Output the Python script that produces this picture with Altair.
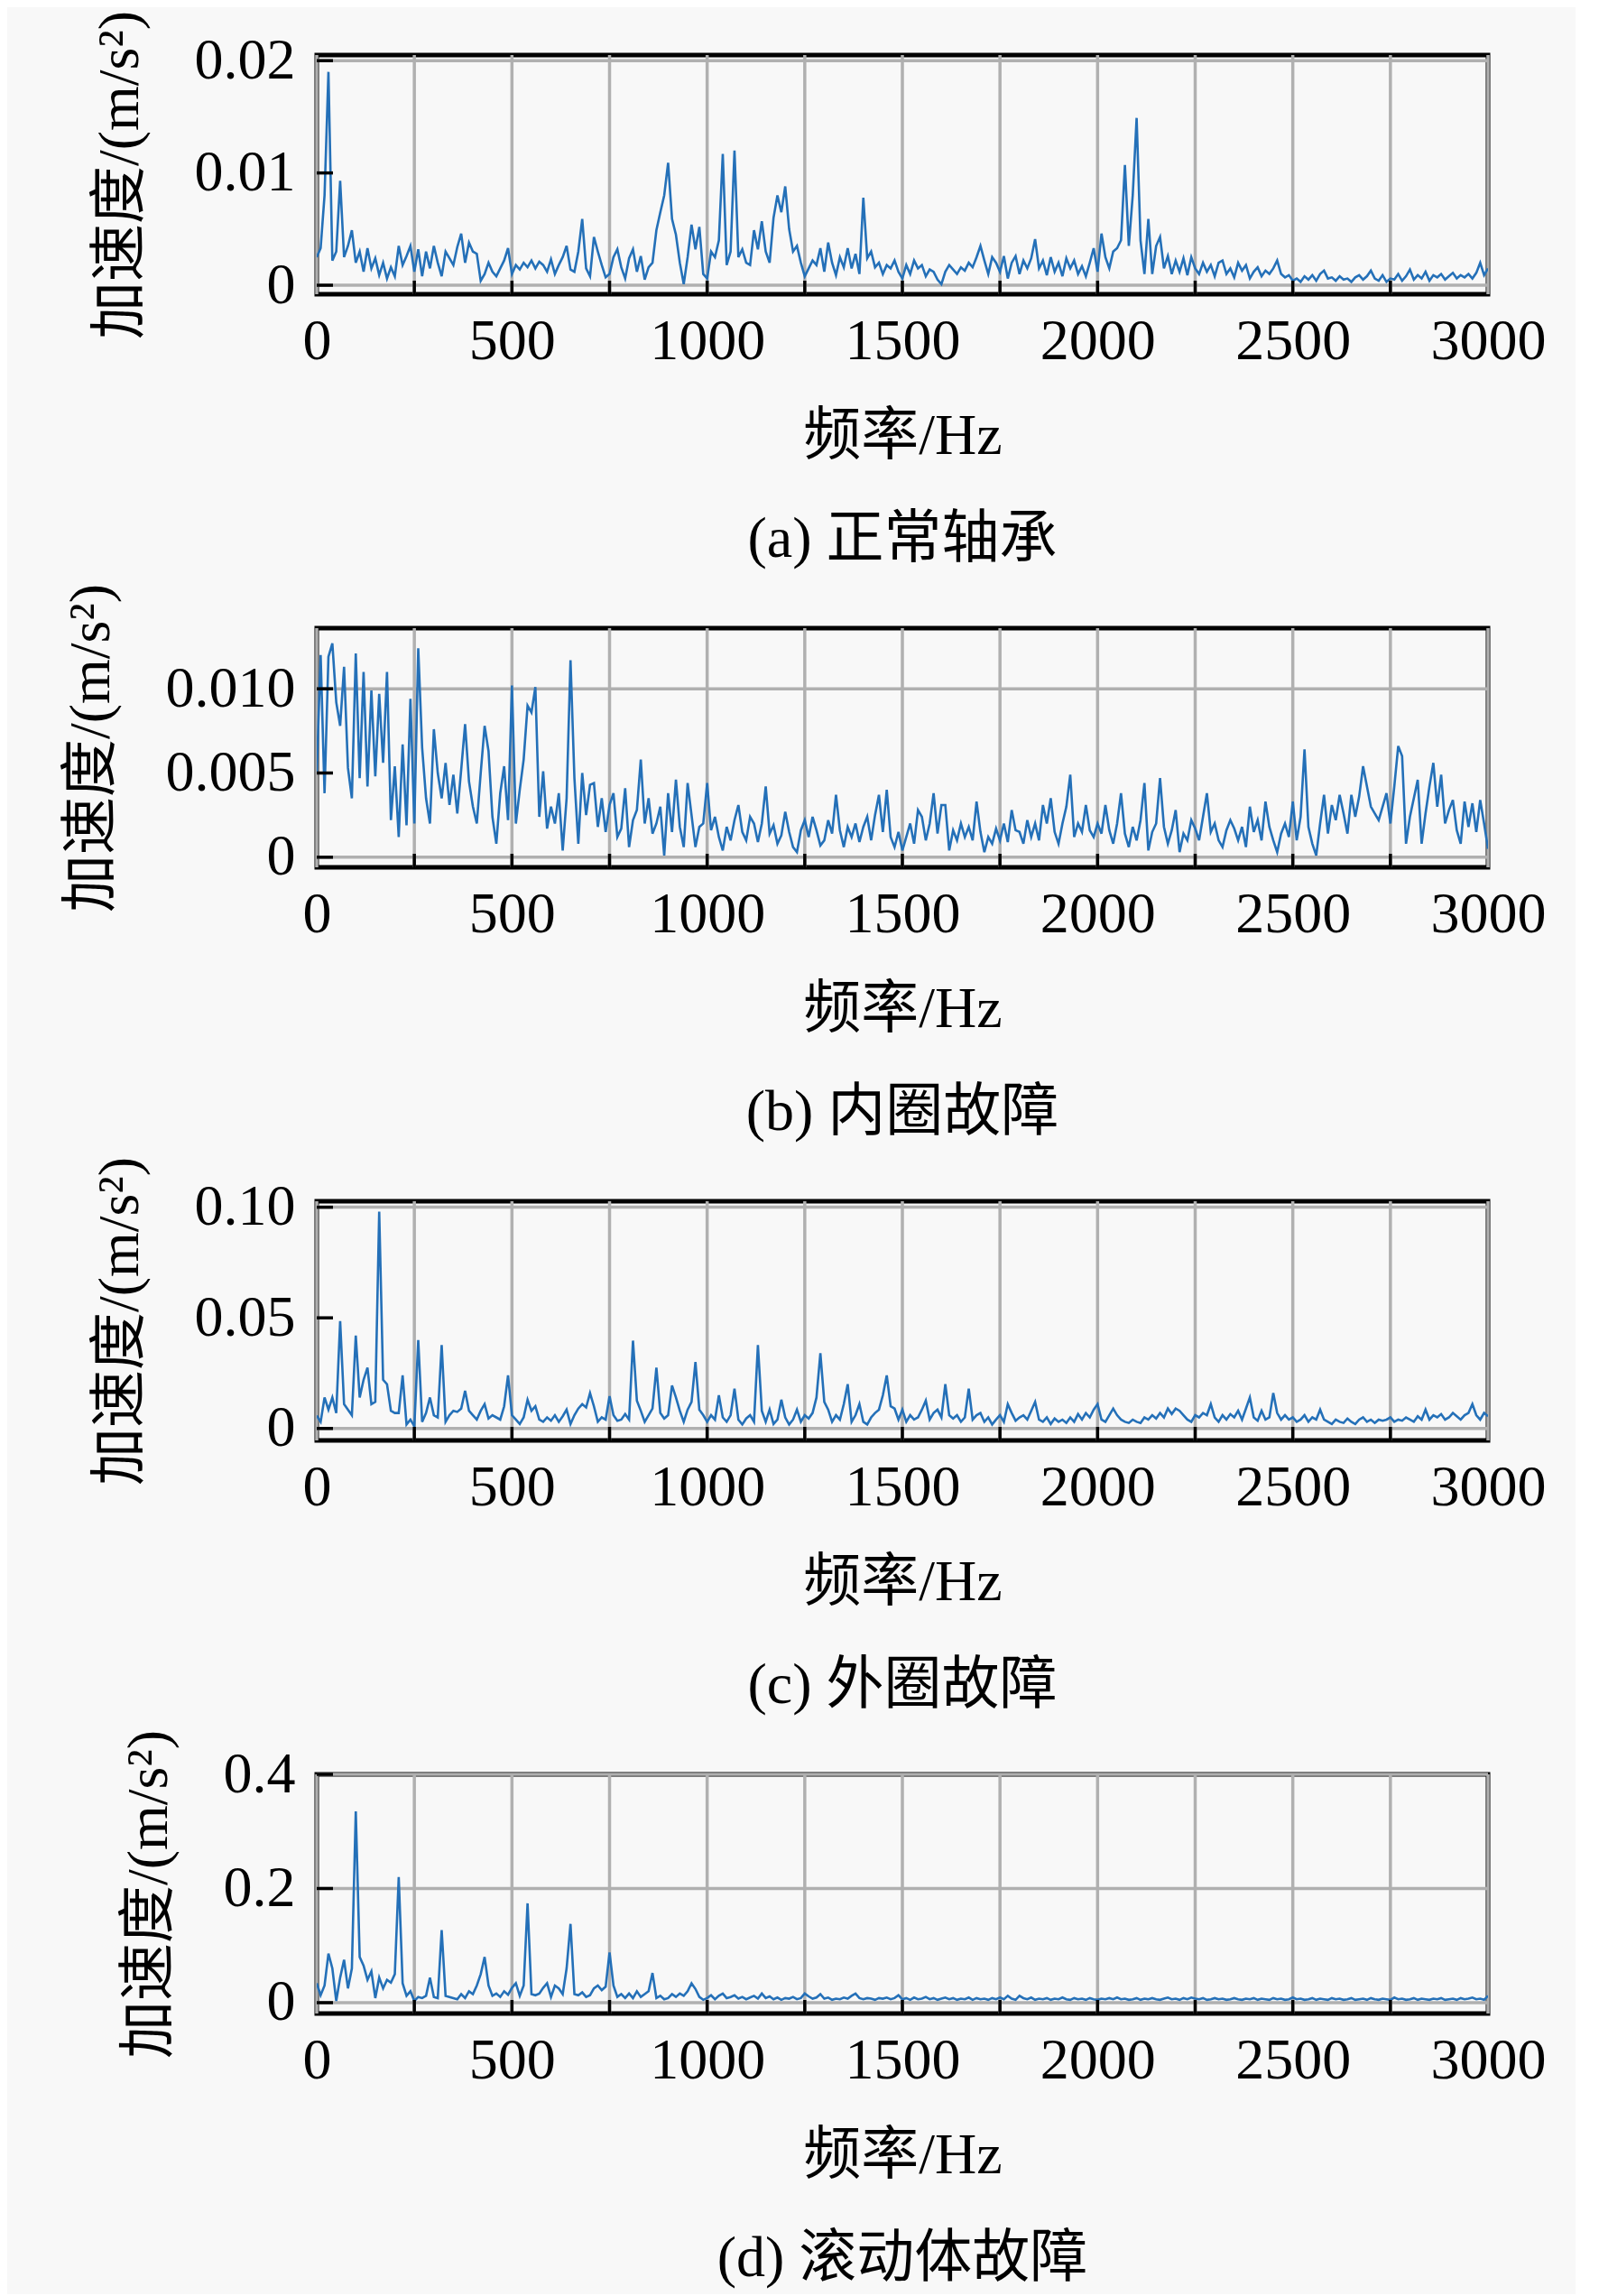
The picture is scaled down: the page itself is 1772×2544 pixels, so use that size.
import altair as alt
import pandas as pd

# Frequency axis (Hz), one value every 10 Hz
FREQS = list(range(0, 3001, 10))

# (a) normal bearing, amplitude in 1e-3 m/s^2
NORMAL_E3 = [
    2.5, 3.3, 8.0, 19.0, 2.2, 3.0, 9.3, 2.5, 3.5, 4.9,
    2.0, 3.0, 1.2, 3.3, 1.5, 2.4, 0.9, 2.0, 0.6, 1.6,
    0.8, 3.5, 1.8, 2.6, 3.5, 1.2, 3.2, 0.8, 3.0, 1.5,
    3.5, 2.0, 0.8, 3.0, 2.4, 1.8, 3.4, 4.6, 2.0, 3.8,
    3.0, 2.8, 0.4, 1.0, 2.0, 1.2, 0.8, 1.5, 2.2, 3.3,
    1.0, 1.8, 1.4, 2.0, 1.6, 2.2, 1.5, 2.1, 1.8, 1.2,
    2.3, 1.0, 1.8, 2.5, 3.5, 1.4, 1.2, 3.0, 5.9, 1.5,
    0.8, 4.3, 3.0, 1.8, 0.7, 1.0, 2.5, 3.2, 1.6, 0.6,
    2.4, 3.2, 1.2, 2.6, 0.5, 1.6, 2.0, 4.9, 6.5, 8.0,
    10.9, 5.9, 4.5, 2.0, 0.1, 2.5, 5.4, 3.2, 5.2, 1.0,
    0.6, 3.0, 2.5, 4.0, 11.7, 1.8, 3.0, 12.0, 2.5, 3.2,
    2.0, 1.8, 4.9, 3.2, 5.7, 3.0, 2.0, 6.0, 8.0, 6.5,
    8.8, 5.0, 3.0, 3.5, 2.0, 0.8, 1.5, 2.2, 1.8, 3.3,
    1.2, 3.8, 2.0, 0.9, 2.5, 1.6, 3.3, 1.5, 2.8, 1.0,
    7.8, 2.4, 3.0, 1.6, 2.0, 1.0, 1.8, 1.5, 2.2, 1.2,
    0.6, 1.8, 1.0, 2.2, 1.5, 1.8, 0.8, 1.4, 1.2, 0.5,
    0.1, 1.2, 1.8, 1.4, 1.0, 1.6, 1.3, 2.0, 1.6, 2.5,
    3.5, 2.2, 1.0, 2.5, 2.0, 1.2, 2.6, 0.6, 2.0, 2.6,
    1.0, 2.2, 1.5, 2.4, 4.1, 1.5, 2.2, 0.9, 2.5, 1.2,
    2.0, 0.8, 2.4, 1.5, 2.2, 1.0, 1.7, 0.8, 2.0, 3.3,
    1.2, 4.6, 2.5, 1.5, 3.0, 3.3, 4.0, 10.7, 3.5, 8.0,
    14.9, 4.0, 1.0, 5.9, 1.0, 3.5, 4.3, 1.5, 2.6, 1.0,
    2.2, 1.2, 2.4, 0.9, 2.5, 1.5, 1.0, 2.0, 1.2, 1.8,
    0.8, 2.0, 2.2, 1.0, 1.5, 0.7, 2.0, 1.3, 1.8, 0.6,
    1.2, 1.6, 0.8, 1.3, 1.0, 1.5, 2.2, 1.0, 0.7, 0.9,
    0.4, 0.6, 0.3, 0.8, 0.5, 0.9, 0.4, 1.0, 1.3, 0.6,
    0.7, 0.4, 0.8, 0.5, 0.6, 0.3, 0.7, 0.9, 0.5, 0.8,
    1.3, 0.6, 0.4, 0.9, 0.3, 0.6, 0.5, 1.0, 0.4, 0.8,
    1.4, 0.5, 0.9, 0.6, 1.2, 0.4, 0.9, 0.7, 1.0, 0.5,
    0.8, 1.1, 0.6, 0.9, 0.7, 1.0, 0.6, 1.1, 2.0, 0.9,
    1.5,
]

# (b) inner race fault, amplitude in 1e-3 m/s^2
INNER_E3 = [
    5.0, 12.0, 3.8, 11.9, 12.7, 9.2, 7.8, 11.3, 5.3, 3.5,
    12.1, 4.7, 11.0, 4.2, 9.9, 4.8, 9.7, 5.6, 11.0, 2.2,
    5.4, 1.2, 6.7, 1.9, 9.4, 2.0, 12.4, 6.5, 3.5, 2.0,
    7.6, 5.0, 3.5, 5.6, 3.1, 4.9, 2.6, 5.2, 7.9, 4.5,
    3.0, 2.0, 5.0, 7.8, 6.3, 2.4, 0.8, 3.8, 5.4, 2.2,
    10.2, 2.0, 4.0, 5.8, 9.0, 8.6, 10.1, 2.4, 5.1, 1.7,
    3.0, 2.0, 3.8, 0.4, 3.5, 11.7, 4.7, 0.8, 5.0, 2.5,
    4.3, 4.4, 1.8, 3.5, 1.5, 3.1, 3.8, 1.2, 1.7, 4.1,
    0.6, 2.2, 2.8, 5.8, 2.0, 3.5, 1.4, 2.0, 3.0, 0.1,
    3.8, 1.5, 4.6, 1.8, 0.6, 4.4, 2.5, 0.6, 1.8, 2.0,
    4.4, 1.6, 2.4, 1.2, 0.4, 1.8, 1.0, 2.2, 3.1, 1.5,
    1.0, 2.4, 2.0, 0.9, 2.0, 4.2, 1.4, 1.9, 0.8, 1.3,
    2.7, 1.5, 0.6, 0.3, 1.6, 2.2, 1.2, 2.4, 1.6, 0.7,
    1.0, 2.2, 1.4, 3.7, 1.6, 0.6, 1.8, 1.2, 2.0, 0.9,
    1.8, 2.4, 1.0, 2.5, 3.7, 1.5, 4.0, 1.2, 0.6, 1.5,
    0.4, 1.2, 2.0, 0.8, 2.8, 2.4, 1.0, 2.0, 3.8, 1.4,
    3.1, 3.1, 0.4, 1.6, 1.0, 2.0, 1.2, 1.8, 1.0, 3.3,
    1.5, 0.3, 1.2, 0.8, 1.7, 1.0, 2.0, 0.9, 2.8, 1.6,
    1.5, 0.8, 2.2, 1.2, 2.0, 1.0, 3.1, 2.0, 3.5, 1.5,
    0.8, 2.0, 3.0, 4.9, 1.2, 2.0, 1.5, 3.1, 1.6, 1.2,
    2.0, 1.4, 3.1, 1.6, 0.8, 2.0, 3.8, 1.4, 0.6, 1.8,
    1.0, 2.2, 4.4, 0.4, 1.5, 2.0, 4.7, 1.8, 0.8, 1.6,
    2.8, 0.3, 1.4, 1.0, 2.2, 1.7, 1.0, 2.4, 3.8, 1.5,
    2.0, 1.0, 0.6, 1.6, 2.2, 1.7, 1.0, 1.8, 0.6, 3.0,
    1.5, 2.2, 1.0, 3.3, 1.8, 1.0, 0.3, 1.4, 2.0, 1.2,
    3.3, 1.0, 2.4, 6.4, 1.8, 0.8, 0.1, 2.0, 3.7, 1.4,
    3.1, 2.2, 3.7, 2.6, 1.4, 3.7, 2.4, 3.6, 5.4, 4.2,
    3.0, 2.6, 2.2, 3.0, 3.8, 2.0, 4.2, 6.6, 6.0, 0.8,
    2.4, 3.5, 4.6, 0.8, 2.6, 4.2, 5.6, 3.0, 4.9, 2.0,
    2.8, 3.4, 1.6, 0.8, 3.3, 1.8, 3.2, 1.5, 3.4, 2.0,
    0.5,
]

# (c) outer race fault, amplitude in 1e-3 m/s^2
OUTER_E3 = [
    5.8, 3.0, 14.0, 8.5, 14.0, 7.0, 48.5, 11.0, 8.5, 6.0,
    42.0, 14.0, 22.0, 27.5, 11.0, 12.0, 98.0, 22.0, 20.0, 8.0,
    7.0, 7.0, 24.0, 1.8, 4.0, 1.0, 40.0, 3.0, 7.0, 14.0,
    6.0, 5.0, 37.7, 3.0, 6.0, 8.0, 7.5, 9.0, 17.0, 8.0,
    6.0, 4.0, 8.0, 11.0, 4.5, 6.0, 5.0, 4.0, 10.0, 24.0,
    6.0, 4.0, 2.0, 5.0, 13.0, 8.0, 10.0, 4.0, 3.0, 5.0,
    3.5, 6.0, 3.0, 5.5, 8.5, 2.0, 6.0, 9.0, 11.0, 9.5,
    16.0, 10.0, 3.0, 5.0, 4.0, 14.6, 6.0, 3.5, 4.0, 6.5,
    4.0, 39.7, 12.6, 8.0, 3.0, 6.0, 9.0, 27.5, 7.0, 4.5,
    6.0, 19.4, 14.0, 8.0, 3.0, 8.5, 12.0, 30.0, 8.5, 6.0,
    3.0, 6.0, 4.0, 15.0, 5.0, 3.0, 6.0, 18.0, 4.0, 1.8,
    4.5, 6.0, 3.0, 37.7, 8.0, 3.0, 8.5, 2.0, 4.0, 13.0,
    5.0, 1.8, 4.0, 8.5, 3.0, 6.0, 4.5, 7.0, 14.0, 34.0,
    12.0, 8.5, 3.0, 6.0, 4.0, 11.0, 20.0, 3.0, 6.0, 11.0,
    3.0, 1.8, 5.0, 7.0, 8.5, 15.0, 24.0, 10.0, 9.0, 4.0,
    8.5, 3.0, 6.0, 4.0, 5.0, 8.5, 12.6, 4.0, 7.0, 8.5,
    5.0, 20.0, 6.0, 4.5, 6.0, 3.0, 5.0, 18.0, 4.0, 6.0,
    7.0, 3.0, 5.0, 1.8, 4.0, 6.0, 3.0, 11.0, 7.0, 3.5,
    5.0, 6.0, 4.0, 8.0, 12.0, 4.0, 3.0, 5.0, 2.0, 4.5,
    3.0, 4.0, 2.5, 5.0, 3.0, 6.5, 4.0, 7.0, 5.0, 8.5,
    11.0, 4.0, 3.0, 6.0, 9.0, 6.0, 4.0, 3.0, 2.5, 4.0,
    3.0, 2.5, 5.0, 4.0, 6.0, 4.5, 7.0, 5.0, 9.0, 6.5,
    9.0, 8.0, 6.0, 4.0, 3.0, 6.0, 5.0, 7.0, 6.0, 11.0,
    5.0, 3.0, 6.0, 4.0, 6.5, 5.0, 8.0, 4.0, 9.0, 14.0,
    5.0, 3.5, 8.0, 4.0, 5.0, 16.0, 7.0, 4.0, 6.0, 4.0,
    5.0, 3.0, 4.0, 6.0, 3.0, 5.0, 4.0, 8.5, 4.0, 3.0,
    2.0, 4.0, 3.0, 2.5, 4.5, 3.0, 2.0, 4.0, 5.0, 3.0,
    4.0, 2.5, 4.0, 3.5, 4.0, 5.0, 3.0, 4.0, 3.5, 5.0,
    4.0, 3.0, 5.5, 4.0, 8.5, 4.0, 6.0, 5.0, 6.5, 4.0,
    5.0, 7.0, 5.5, 4.0, 6.0, 7.0, 11.0, 6.0, 4.0, 7.0,
    5.5,
]

# (d) rolling element fault, amplitude in 1e-2 m/s^2
BALL_E2 = [
    3.4, 1.3, 3.0, 8.6, 6.0, 0.3, 4.4, 7.5, 2.5, 6.0,
    33.5, 8.0, 6.5, 4.0, 5.5, 0.8, 4.4, 2.5, 4.0, 3.5,
    5.0, 22.0, 3.4, 1.2, 2.0, 0.3, 1.0, 0.8, 1.2, 4.4,
    1.0, 0.8, 12.7, 1.2, 1.0, 0.8, 0.6, 1.5, 0.8, 2.0,
    1.5, 3.0, 5.0, 8.0, 3.0, 1.2, 1.6, 1.0, 2.0, 1.4,
    2.6, 3.4, 1.2, 3.0, 17.4, 1.5, 1.3, 1.6, 2.6, 3.4,
    1.0, 3.0, 2.5, 1.5, 6.0, 13.8, 1.5, 1.3, 1.8, 1.0,
    1.3, 2.5, 3.0, 2.2, 2.8, 8.8, 3.0, 1.0, 1.5, 0.8,
    1.6, 0.8, 2.0, 1.0, 1.5, 2.0, 5.2, 0.8, 1.2, 0.6,
    0.8, 1.5, 1.0, 1.6, 1.2, 2.0, 3.4, 2.4, 1.0, 0.5,
    0.8, 1.3, 0.6, 1.2, 1.6, 0.8, 1.0, 1.3, 0.7, 1.0,
    0.6, 0.9, 1.2, 0.7, 1.6, 0.8, 1.1, 0.6, 0.9, 0.5,
    0.8, 0.7, 1.0, 0.6, 0.8, 1.6, 1.1, 0.7, 0.9, 1.5,
    0.7, 0.9, 0.5, 0.7, 0.6, 0.9, 0.7, 1.2, 1.6, 0.8,
    0.6, 0.8, 0.7, 0.5, 0.8, 0.7, 0.9, 0.6, 0.8, 1.3,
    0.6, 0.8, 0.5, 0.9, 0.6, 0.7, 1.0, 0.6, 0.8, 0.5,
    0.7, 0.9, 0.6, 0.8, 0.5, 0.7, 0.6, 0.9, 0.5, 0.8,
    0.6, 0.7, 0.5, 0.8, 0.6, 0.9, 0.6, 1.2, 0.7, 0.5,
    1.2, 0.8, 0.6, 0.9, 0.5, 0.7, 0.6, 0.8, 0.5, 0.7,
    0.6, 0.9, 0.6, 0.5, 0.8, 0.6, 0.7, 0.5, 0.8, 0.6,
    0.5, 0.7, 0.6, 0.8, 0.6, 0.9, 0.6, 0.7, 0.5, 0.6,
    0.8, 0.5, 0.7, 0.6, 0.8, 0.6, 0.5, 0.7, 0.9, 0.6,
    0.7, 0.5, 0.8, 0.6, 0.9, 0.7, 0.6, 0.8, 0.5, 0.6,
    0.8, 0.6, 0.7, 0.5, 0.6, 0.8, 0.6, 0.5, 0.7, 0.6,
    0.8, 0.5, 0.7, 0.6, 0.5, 0.8, 0.6, 0.7, 0.5, 0.6,
    0.9, 0.6, 0.7, 0.5, 0.6, 0.8, 0.5, 0.7, 0.6, 0.5,
    0.8, 0.6, 0.7, 0.5, 0.6, 0.8, 0.5, 0.6, 0.7, 0.5,
    0.8, 0.6, 0.5, 0.7, 0.6, 0.5, 0.9, 0.6, 0.7, 0.5,
    0.6, 0.8, 0.5, 0.7, 0.6, 0.5, 0.7, 0.6, 0.8, 0.5,
    0.6, 0.7, 0.5, 0.8, 0.6, 0.7, 0.9, 0.6, 0.7, 0.5,
    1.2,
]

for arr in (NORMAL_E3, INNER_E3, OUTER_E3, BALL_E2):
    assert len(arr) == len(FREQS), len(arr)

SERIES = [
    [v * 1e-3 for v in NORMAL_E3],
    [v * 1e-3 for v in INNER_E3],
    [v * 1e-3 for v in OUTER_E3],
    [v * 1e-2 for v in BALL_E2],
]
CAPTIONS = ["(a) 正常轴承", "(b) 内圈故障", "(c) 外圈故障", "(d) 滚动体故障"]
Y_DOMAINS = [[-0.0008, 0.0205], [-0.0006, 0.0136], [-0.0054, 0.1027], [-0.019, 0.4]]
Y_TICKS = [[0, 0.01, 0.02], [0, 0.005, 0.01], [0, 0.05, 0.1], [0, 0.2, 0.4]]
Y_FORMATS = [".2f", ".3f", ".2f", ".1f"]
Y_GRID = [[0, 0.02], [0, 0.01], [0, 0.1], [0, 0.2, 0.4]]
X_LABELS = [0, 500, 1000, 1500, 2000, 2500, 3000]
X_GRID = [0, 250, 500, 750, 1000, 1250, 1500, 1750, 2000, 2250, 2500, 2750, 3000]
X_TICKS = [250, 500, 750, 1000, 1250, 1500, 1750, 2000, 2250, 2500, 2750]

X_TITLE = "频率/Hz"
Y_TITLE = "加速度/(m/s²)"

W, H = 1298, 265
LINE_COLOR = "#2470b8"
GRID_COLOR = "#b0b0b0"
FONT = "Liberation Serif, Noto Sans CJK SC"
FS = 64


def panel(values, caption, ydom, yticks, yfmt, ygrid):
    xs = alt.Scale(domain=[0, 3000], nice=False, zero=False)
    ys = alt.Scale(domain=ydom, nice=False, zero=False)
    x_axis = alt.Axis(values=X_LABELS, format="d", title=X_TITLE)
    y_axis = alt.Axis(values=yticks, title=Y_TITLE,
                      labelExpr=f"datum.value == 0 ? '0' : format(datum.value, '{yfmt}')")
    df = pd.DataFrame({"freq": FREQS, "acc": values})
    vgrid = alt.Chart(pd.DataFrame({"freq": X_GRID})).mark_rule(
        color=GRID_COLOR, strokeWidth=3.5).encode(
        x=alt.X("freq:Q", scale=xs, axis=x_axis))
    hgrid = alt.Chart(pd.DataFrame({"acc": ygrid})).mark_rule(
        color=GRID_COLOR, strokeWidth=3.5).encode(
        y=alt.Y("acc:Q", scale=ys, axis=y_axis))
    line = alt.Chart(df).mark_line(
        color=LINE_COLOR, strokeWidth=2.6, clip=True).encode(
        x=alt.X("freq:Q", scale=xs, axis=x_axis),
        y=alt.Y("acc:Q", scale=ys, axis=y_axis),
    )
    xt = alt.Chart(pd.DataFrame({"freq": X_TICKS})).mark_rule(
        color="black", strokeWidth=3.5).encode(
        x=alt.X("freq:Q", scale=xs, axis=x_axis),
        y=alt.value(H), y2=alt.value(H - 15))
    yt = alt.Chart(pd.DataFrame({"acc": yticks})).mark_rule(
        color="black", strokeWidth=3.5).encode(
        y=alt.Y("acc:Q", scale=ys, axis=y_axis),
        x=alt.value(0), x2=alt.value(18))
    return alt.layer(vgrid, hgrid, line, xt, yt).properties(
        width=W, height=H,
        title=alt.TitleParams(caption, orient="bottom", offset=51, fontSize=FS,
                              font=FONT, fontWeight="normal", anchor="middle",
                              frame="group", color="black"),
    )


panels = [panel(SERIES[i], CAPTIONS[i], Y_DOMAINS[i], Y_TICKS[i], Y_FORMATS[i], Y_GRID[i])
          for i in range(4)]

chart = alt.vconcat(*panels, spacing=370, bounds="flush").configure(
    background="#f8f8f8",
    padding={"left": 58, "top": 0, "right": 30, "bottom": 4},
).configure_view(
    stroke="black", strokeWidth=5, fill="#f8f8f8",
).configure_axis(
    labelFont=FONT, titleFont=FONT, labelFontSize=FS, titleFontSize=FS,
    labelColor="black", titleColor="black", titleFontWeight="normal",
    domain=False, ticks=False, grid=False, labelPadding=20, labelFlush=False,
    labelOverlap=False,
).configure_axisX(
    titlePadding=41,
).configure_axisY(
    labelPadding=24, titlePadding=50,
)

chart.save("out.html", embed_options={"renderer": "svg", "actions": False})
